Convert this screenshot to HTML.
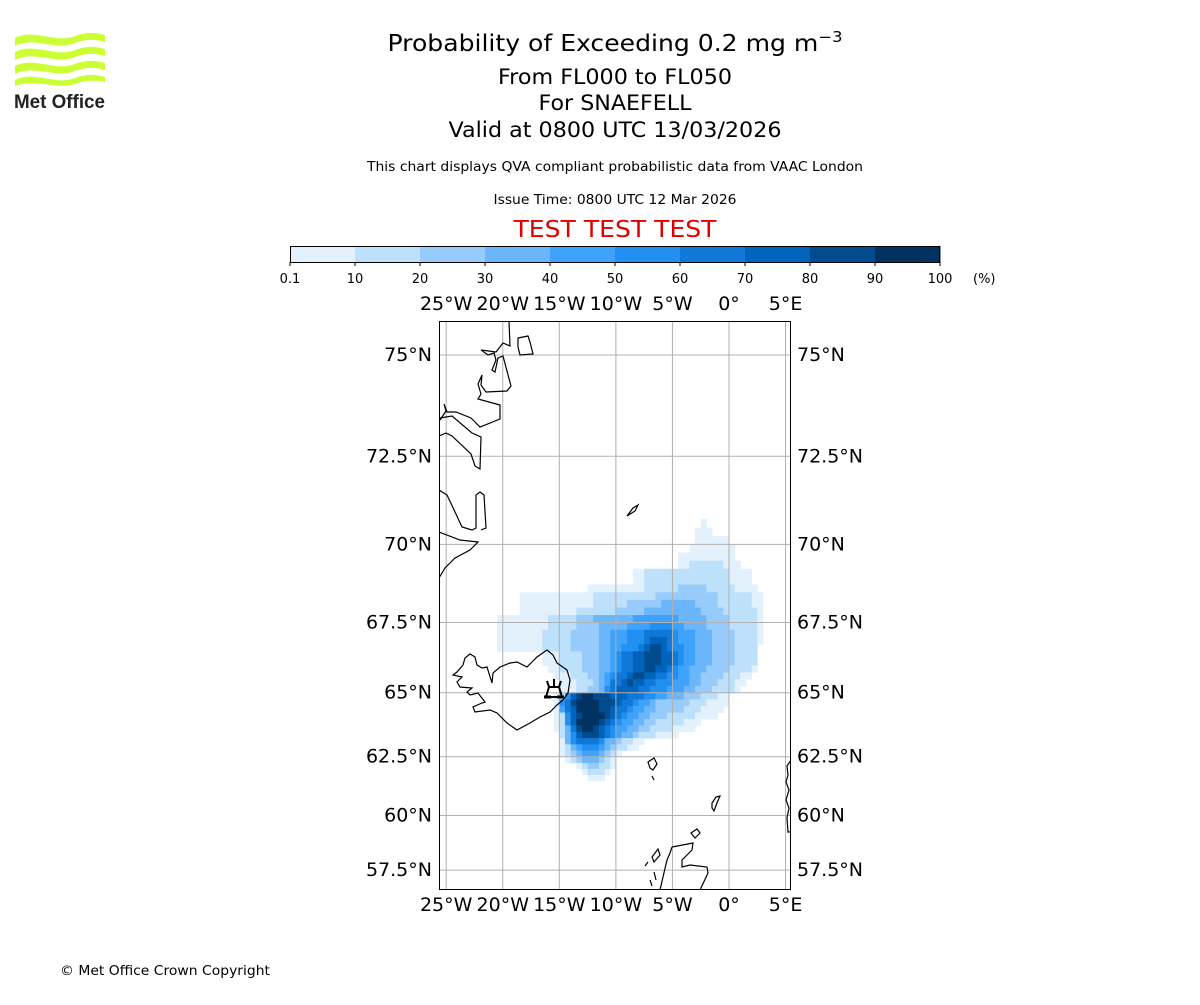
<!DOCTYPE html>
<html><head><meta charset="utf-8"><style>
body{margin:0;background:#fff;}
svg text{font-family:"DejaVu Sans","Liberation Sans",sans-serif;}
</style></head><body>
<svg id="chart" width="1200" height="1000" viewBox="0 0 1200 1000" xmlns="http://www.w3.org/2000/svg">
<rect width="1200" height="1000" fill="#fff"/>
<g>
<path d="M15 38 C35 28,55 44,75 36 C88 31,98 33,105 35 L105 42 C95 39,85 39,75 43 C55 51,35 36,15 46 Z" fill="#ccff33"/>
<path d="M15 52 C35 42,55 58,75 50 C88 45,98 47,105 49 L105 56 C95 53,85 53,75 57 C55 65,35 50,15 60 Z" fill="#ccff33"/>
<path d="M15 66 C35 56,55 72,75 64 C88 59,98 61,105 63 L105 70 C95 67,85 67,75 71 C55 79,35 64,15 74 Z" fill="#ccff33"/>
<path d="M15 80 C35 70,55 86,75 78 C88 73,98 75,105 77 L105 82 C95 80,85 80,75 84 C55 90,35 78,15 86 Z" fill="#ccff33"/>
<text x="14" y="108" font-size="19" font-weight="bold" fill="#222" textLength="91" lengthAdjust="spacingAndGlyphs" style="font-family:'Liberation Sans',sans-serif">Met Office</text>
</g>
<g text-anchor="middle" fill="#000">
<text x="615" y="51" font-size="23" textLength="455" lengthAdjust="spacingAndGlyphs">Probability of Exceeding 0.2 mg m<tspan dy="-9" font-size="15">−3</tspan></text>
<text x="615" y="84" font-size="21" textLength="234" lengthAdjust="spacingAndGlyphs">From FL000 to FL050</text>
<text x="615" y="110" font-size="21" textLength="153" lengthAdjust="spacingAndGlyphs">For SNAEFELL</text>
<text x="615" y="137" font-size="21" textLength="333" lengthAdjust="spacingAndGlyphs">Valid at 0800 UTC 13/03/2026</text>
<text x="615" y="171" font-size="13" textLength="496" lengthAdjust="spacingAndGlyphs">This chart displays QVA compliant probabilistic data from VAAC London</text>
<text x="615" y="204" font-size="13" textLength="243" lengthAdjust="spacingAndGlyphs">Issue Time: 0800 UTC 12 Mar 2026</text>
<text x="615" y="237" font-size="23" fill="#e00000" textLength="203" lengthAdjust="spacingAndGlyphs">TEST TEST TEST</text>
</g>
<g id="cbar"></g>
<defs><clipPath id="mapclip"><rect x="439" y="321" width="352" height="569"/></clipPath></defs>
<g id="map" clip-path="url(#mapclip)">
<g id="cells"></g>
<g id="grid"></g>
<g fill="none" stroke="#000" stroke-width="1.2">
<path d="M509 321 L510 346 L503 343 L496 352 L481 350 L488 355 L494 353 L496 360 L492 370 L495 372 L498 358 L503 356 L511 386 L507 391 L486 392 L481 385 L482 375 L478 384 L481 394 L478 399 L500 405 L500 419 L480 427 L471 418 L456 412 L447 412 L444 404 L446 411 L440 420"/>
<path d="M439 436 L446 433 L452 436 L471 454 L475 466 L480 469 L481 437 L472 433 L452 416 L440 418"/>
<path d="M439 490 L447 495 L455 512 L462 527 L472 530 L476 528 L476 495 L480 492 L484 495 L486 528 L481 530"/>
<path d="M439 532 L460 540 L478 542 L470 550 L455 558 L445 568 L439 578"/>
<path d="M518 338 L528 336 L530 342 L533 354 L520 355 L518 347 Z"/>
<path d="M627 516 L633 508 L638 505 L635 511 Z"/>
<path d="M453 675 L457 672 L463 665 L465 658 L470 654 L475 657 L477 665 L482 668 L487 667 L492 683 L493 673 L500 667 L510 663 L517 662 L527 667 L537 657 L547 650 L553 655 L557 663 L567 670 L570 680 L568 693 L563 700 L557 705 L550 712 L540 717 L530 723 L517 730 L507 723 L497 713 L490 710 L475 712 L473 707 L482 703 L485 702 L478 693 L470 695 L467 692 L472 688 L460 687 L457 682 L462 677 Z"/>
<path d="M648 762 L654 758 L657 764 L653 770 L650 768 Z M652 776 L654 780"/>
<path d="M712 803 L716 797 L720 796 L717 803 L714 811 L712 808 Z"/>
<path d="M691 833 L697 829 L700 833 L695 838 Z"/>
<path d="M672 847 L693 843 L692 850 L682 860 L682 867 L690 865 L707 867 L708 873 L700 890 M672 847 L670 853 L667 860 L663 877 L660 890"/>
<path d="M652 857 L658 849 L660 855 L654 862 Z M645 866 L648 862 M654 872 L656 880 M650 880 L652 886"/>
<path d="M791 760 L787 766 L788 775 L786 782 L789 790 L786 800 L789 808 L787 818 L788 832 L791 832"/>
</g>
<g fill="none" stroke="#000" stroke-width="2">
<path d="M547 681 L549 687 M554 679 L554 686 M561 681 L559 687 M549 687 L559 687 L562 697 L546 697 Z"/>
<path d="M544 697 L551 697 M557 697 L564 697" stroke-width="3"/>
</g>
</g>
<rect x="439.5" y="321.5" width="351" height="568" fill="none" stroke="#000" stroke-width="1"/>
<g id="labels" font-size="19" fill="#000"></g>
<text x="60" y="975" font-size="13" textLength="210" lengthAdjust="spacingAndGlyphs">© Met Office Crown Copyright</text>
</svg>
<script>
const NS = "http://www.w3.org/2000/svg";
const binEdges = ["0.1","10","20","30","40","50","60","70","80","90","100"];
const binColors = ["#e3f1fc","#bde0fb","#96cbfb","#6bb6fa","#3fa2fc","#2190f0","#0f78d8","#0064bc","#004b8e","#003262"];
const lonTicks = [-25,-20,-15,-10,-5,0,5];
const latTicks = [75,72.5,70,67.5,65,62.5,60,57.5];
const gridLon0 = -21, gridDLon = 0.5, gridLat0 = 71, gridDLat = 0.25;
const plumeRows = [
 [],
 [[0,37,37]],
 [[0,36,38]],
 [[0,36,41]],
 [[0,35,42]],
 [[0,33,42]],
 [[0,33,43],[1,35,40]],
 [[0,25,45],[1,27,41]],
 [[0,25,45],[1,27,41]],
 [[0,17,46],[1,27,42],[2,33,37]],
 [[0,5,47],[1,18,45],[2,29,39]],
 [[0,5,47],[1,18,45],[2,24,39],[3,30,35]],
 [[0,5,47],[1,15,46],[2,22,40],[3,27,36]],
 [[0,1,47],[1,10,46],[2,15,41],[3,18,37],[4,25,32]],
 [[0,1,47],[1,10,46],[2,15,41],[3,19,37],[4,24,33],[5,28,31]],
 [[0,1,47],[1,9,46],[2,14,42],[3,19,38],[4,21,35],[5,24,32],[6,27,31]],
 [[0,1,47],[1,9,46],[2,14,42],[3,19,38],[4,21,35],[5,24,32],[6,27,31],[7,28,30]],
 [[0,1,46],[1,9,46],[2,14,42],[3,19,38],[4,21,35],[5,23,33],[6,26,31],[7,27,30],[8,28,29]],
 [[0,9,46],[1,12,46],[2,16,42],[3,19,38],[4,21,35],[5,22,33],[6,23,32],[7,25,31],[8,27,29]],
 [[0,9,46],[1,12,46],[2,16,42],[3,19,38],[4,21,35],[5,22,33],[6,23,32],[7,25,31],[8,27,29]],
 [[0,10,46],[1,12,45],[2,16,41],[3,19,37],[4,21,34],[5,22,32],[6,23,31],[7,25,30],[8,27,28]],
 [[0,11,45],[1,14,43],[2,17,40],[3,19,36],[4,20,34],[5,21,32],[6,22,30],[7,24,28],[8,25,26]],
 [[0,12,44],[1,15,42],[2,18,39],[3,19,36],[4,20,34],[5,21,31],[6,21,28],[7,23,26],[8,24,24]],
 [[0,12,43],[1,15,42],[2,17,38],[3,19,35],[4,20,33],[5,20,30],[6,21,27],[7,22,25]],
 [[0,11,41],[1,12,39],[2,13,36],[3,13,33],[4,13,30],[5,13,28],[6,14,26],[7,14,23],[8,15,20],[9,16,17]],
 [[0,11,41],[1,12,37],[2,13,34],[3,12,28],[4,12,27],[5,12,25],[6,13,24],[7,14,22],[8,14,21],[9,15,18]],
 [[0,11,40],[1,12,36],[2,13,33],[3,12,28],[4,12,26],[5,13,24],[6,13,23],[7,14,21],[8,15,20],[9,15,18]],
 [[0,11,39],[1,12,35],[2,13,30],[3,13,27],[4,13,25],[5,13,23],[6,14,22],[7,14,21],[8,15,20],[9,16,19]],
 [[0,11,36],[1,12,33],[2,13,28],[3,13,26],[4,13,24],[5,13,22],[6,14,21],[7,14,20],[8,15,19],[9,15,18]],
 [[0,11,35],[1,12,31],[2,13,27],[3,13,25],[4,14,23],[5,14,21],[6,14,20],[7,15,19],[8,15,18],[9,16,17]],
 [[0,12,32],[1,12,28],[2,13,25],[3,13,24],[4,14,22],[5,14,21],[6,15,20],[7,15,19],[8,16,18]],
 [[0,12,26],[1,13,24],[2,13,22],[3,13,21],[4,14,19],[5,14,19],[6,15,18]],
 [[0,12,25],[1,13,23],[2,14,21],[3,14,20],[4,15,19],[5,16,18]],
 [[0,12,22],[1,13,21],[2,14,20],[3,15,19],[4,16,18]],
 [[0,13,21],[1,14,20],[2,15,19],[3,16,18]],
 [[0,15,21],[1,16,20],[2,17,18]],
 [[0,16,20],[1,17,19]],
 [[0,17,19]]
];

const K = 648.1, X0 = 729, Y75 = 355;
function merc(lat){ return Math.log(Math.tan(Math.PI/4 + lat*Math.PI/360)); }
function xOf(lon){ return X0 + K*lon*Math.PI/180; }
function yOf(lat){ return Y75 + K*(merc(75) - merc(lat)); }

const cb = document.getElementById('cbar');
const cbX = 290, cbW = 650, cbY = 246, cbH = 16;
binColors.forEach((c,i)=>{
  const r = document.createElementNS(NS,'rect');
  r.setAttribute('x', cbX + cbW*i/binColors.length);
  r.setAttribute('y', cbY);
  r.setAttribute('width', cbW/binColors.length + 0.5);
  r.setAttribute('height', cbH);
  r.setAttribute('fill', c);
  
  
  cb.appendChild(r);
});
const cbFrame = document.createElementNS(NS,'rect');
cbFrame.setAttribute('x', cbX+0.5); cbFrame.setAttribute('y', cbY+0.5);
cbFrame.setAttribute('width', cbW-1); cbFrame.setAttribute('height', cbH);
cbFrame.setAttribute('fill','none'); cbFrame.setAttribute('stroke','#000');


cb.appendChild(cbFrame);
binEdges.forEach((t,i)=>{
  const x = cbX + cbW*i/(binEdges.length-1);
  const l = document.createElementNS(NS,'line');
  l.setAttribute('x1',x); l.setAttribute('x2',x); l.setAttribute('y1',cbY+cbH); l.setAttribute('y2',cbY+cbH+4);
  l.setAttribute('stroke','#000');
  
  
  cb.appendChild(l);
  const tx = document.createElementNS(NS,'text');
  tx.setAttribute('x',x); tx.setAttribute('y',283); tx.setAttribute('font-size','13'); tx.setAttribute('text-anchor','middle');
  tx.textContent = t;
  
  
  cb.appendChild(tx);
});
const unit = document.createElementNS(NS,'text');
unit.setAttribute('x',973); unit.setAttribute('y',283); unit.setAttribute('font-size','13');
unit.textContent = '(%)';


cb.appendChild(unit);

const cells = document.getElementById('cells');
plumeRows.forEach((bands,row)=>{
  const levels = {};
  bands.forEach(([lv,s,e])=>{ for(let c=s;c<=e;c++) levels[c]=lv; });
  Object.keys(levels).forEach(k=>{
    const col = +k, lv = levels[k];
    const lonA = gridLon0 + col*gridDLon, lonB = lonA + gridDLon;
    const latA = gridLat0 - row*gridDLat, latB = latA - gridDLat;
    const x1 = xOf(lonA), x2 = xOf(lonB), y1 = yOf(latA), y2 = yOf(latB);
    const r = document.createElementNS(NS,'rect');
    r.setAttribute('x', x1); r.setAttribute('y', y1);
    r.setAttribute('width', x2-x1+0.4); r.setAttribute('height', y2-y1+0.4);
    r.setAttribute('fill', binColors[lv]);
    
    
    cells.appendChild(r);
  });
});

const grid = document.getElementById('grid');
lonTicks.forEach(lon=>{
  const l = document.createElementNS(NS,'line');
  l.setAttribute('x1',xOf(lon)); l.setAttribute('x2',xOf(lon)); l.setAttribute('y1',321); l.setAttribute('y2',890);
  l.setAttribute('stroke','#b0b0b0'); l.setAttribute('stroke-width','1');
  
  
  grid.appendChild(l);
});
latTicks.forEach(lat=>{
  const l = document.createElementNS(NS,'line');
  l.setAttribute('x1',439); l.setAttribute('x2',791); l.setAttribute('y1',yOf(lat)); l.setAttribute('y2',yOf(lat));
  l.setAttribute('stroke','#b0b0b0'); l.setAttribute('stroke-width','1');
  
  
  grid.appendChild(l);
});

const labels = document.getElementById('labels');
function lonLabel(lon){ return lon===0 ? '0°' : (Math.abs(lon)+'°'+(lon<0?'W':'E')); }
lonTicks.forEach(lon=>{
  [310,911].forEach((y,j)=>{
    const t = document.createElementNS(NS,'text');
    t.setAttribute('x', xOf(lon)); t.setAttribute('y', y); t.setAttribute('text-anchor','middle');
    t.textContent = lonLabel(lon);
    
    
    labels.appendChild(t);
  });
});
latTicks.forEach(lat=>{
  const y = yOf(lat) + 6;
  const a = document.createElementNS(NS,'text');
  a.setAttribute('x', 432); a.setAttribute('y', y); a.setAttribute('text-anchor','end');
  a.textContent = lat+'°N';
  
  
  labels.appendChild(a);
  const b = document.createElementNS(NS,'text');
  b.setAttribute('x', 797); b.setAttribute('y', y);
  b.textContent = lat+'°N';
  
  
  labels.appendChild(b);
});
</script>
</body></html>
